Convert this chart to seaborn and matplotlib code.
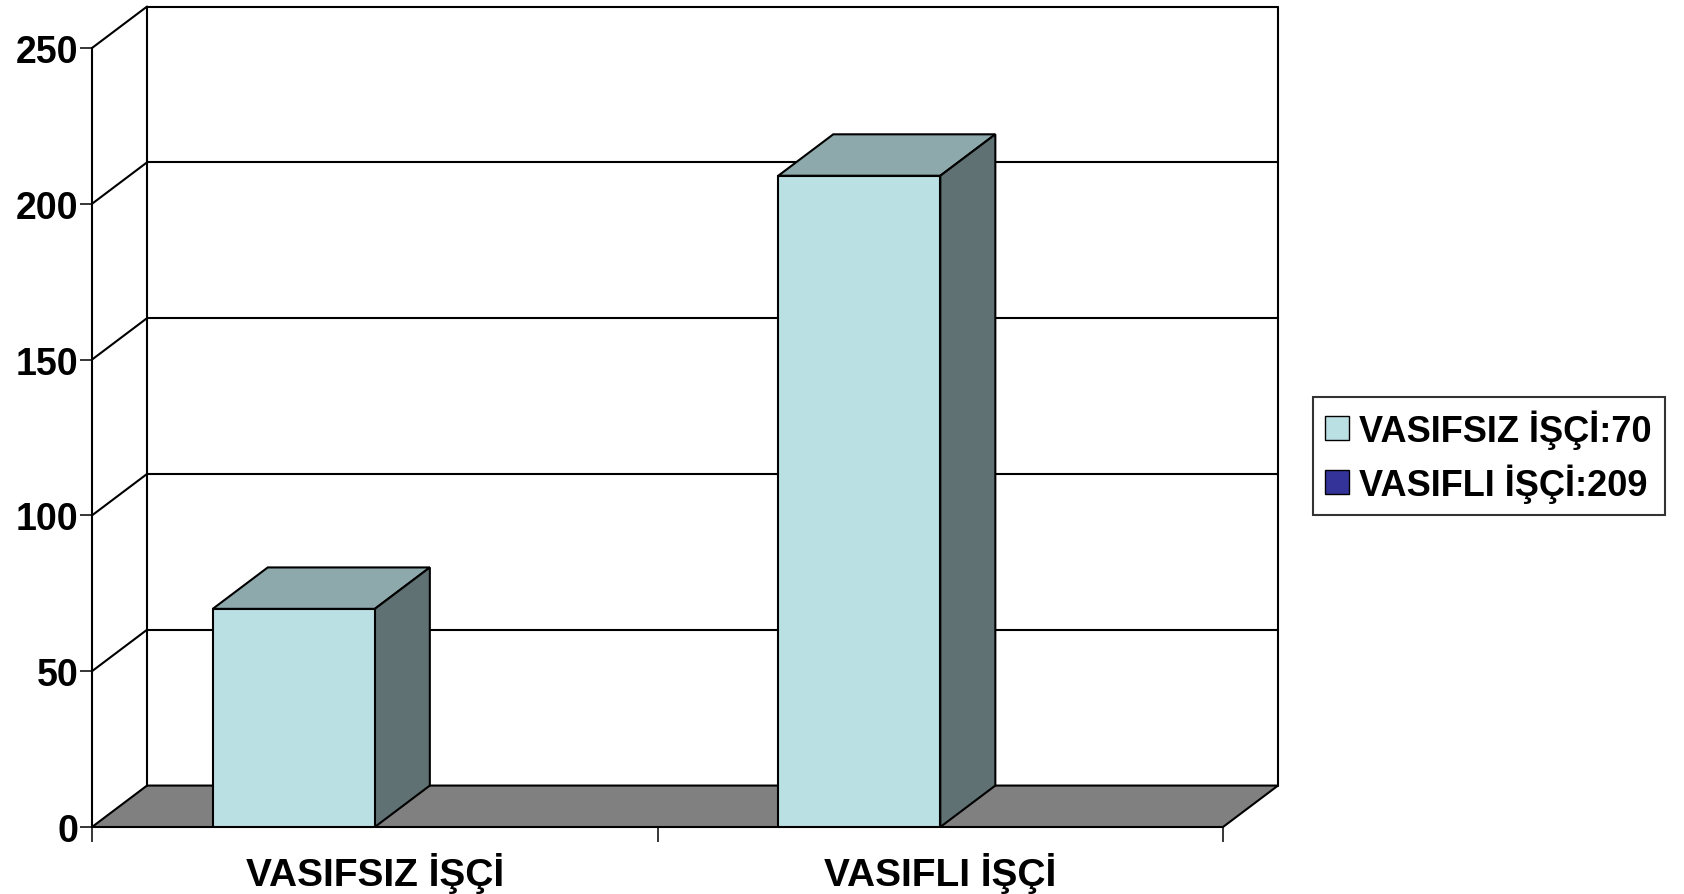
import matplotlib
matplotlib.use("Agg")
import matplotlib.pyplot as plt
from matplotlib.patches import Polygon, Patch
import seaborn as sns
import pandas as pd

categories = ["VASIFSIZ İŞÇİ", "VASIFLI İŞÇİ"]
values = [70, 209]
legend_labels = ["VASIFSIZ İŞÇİ:70", "VASIFLI İŞÇİ:209"]
legend_colors = ["#BBE0E3", "#333399"]
y_ticks = [0, 50, 100, 150, 200, 250]

FRONT = "#BBE0E3"
TOP = "#8DA9AB"
SIDE = "#5F7173"
FLOOR = "#808080"

sns.set_theme(style="white")
plt.rcParams["font.family"] = ["Liberation Sans", "DejaVu Sans"]
plt.rcParams["font.weight"] = "bold"
plt.rcParams["text.color"] = "black"
plt.rcParams["xtick.color"] = "black"
plt.rcParams["ytick.color"] = "black"

df = pd.DataFrame({"kategori": categories, "sayi": values})

fig = plt.figure(figsize=(16.84, 8.95), dpi=100)
W, H = 1684, 895
ax = fig.add_axes([92 / W, (H - 828) / H, 1131 / W, 779 / H])

bar_w = 0.2866
sns.barplot(data=df, x="kategori", y="sayi", color=FRONT, width=bar_w,
            edgecolor="black", linewidth=1.5, saturation=1, ax=ax, zorder=5)

x0 = -0.1435 - 0.2133
x1 = x0 + len(categories)
ymax = y_ticks[-1]
dx, dy = 0.0973, 13.3
lw = 1.5
ax.set_xlim(x0, x1)
ax.set_ylim(0, ymax)

# floor
ax.add_patch(Polygon([(x0, 0), (x1, 0), (x1 + dx, dy), (x0 + dx, dy)],
                     closed=True, facecolor=FLOOR, edgecolor="black",
                     linewidth=lw, clip_on=False, zorder=1))
# back wall + side wall grid
for t in y_ticks[1:]:
    ax.plot([x0 + dx, x1 + dx], [t + dy, t + dy], color="black", lw=lw,
            clip_on=False, zorder=2)
    ax.plot([x0, x0 + dx], [t, t + dy], color="black", lw=lw,
            clip_on=False, zorder=2)
ax.plot([x0 + dx, x0 + dx], [dy, ymax + dy], color="black", lw=lw, clip_on=False, zorder=2)
ax.plot([x1 + dx, x1 + dx], [dy, ymax + dy], color="black", lw=lw, clip_on=False, zorder=2)
ax.plot([x0, x0], [0, ymax], color="black", lw=lw, clip_on=False, zorder=6)

# 3D faces for bars
for p in ax.patches:
    if not hasattr(p, "get_width") or p.get_height() <= 0 or p.get_width() > 1:
        continue
    bx0 = p.get_x()
    bx1 = bx0 + p.get_width()
    h = p.get_height()
    ax.add_patch(Polygon([(bx0, h), (bx1, h), (bx1 + dx, h + dy), (bx0 + dx, h + dy)],
                         closed=True, facecolor=TOP, edgecolor="black",
                         linewidth=lw, clip_on=False, zorder=4))
    ax.add_patch(Polygon([(bx1, 0), (bx1 + dx, dy), (bx1 + dx, h + dy), (bx1, h)],
                         closed=True, facecolor=SIDE, edgecolor="black",
                         linewidth=lw, clip_on=False, zorder=4))

for s in ax.spines.values():
    s.set_visible(False)

ax.set_yticks(y_ticks)
ax.set_yticklabels([str(t) for t in y_ticks], fontsize=27, fontweight="bold", color="black")
ax.tick_params(axis="y", left=True, length=8.6, width=1.1, color="black", pad=1)

ax.set_xticks([x0 + 0.5 + i for i in range(len(categories))])
ax.set_xticklabels(categories, fontsize=28, fontweight="bold", color="black")
ax.set_xticks([x0 + i for i in range(len(categories) + 1)], minor=True)
ax.tick_params(axis="x", which="major", length=0, pad=18)
ax.tick_params(axis="x", which="minor", bottom=True, length=10.8, width=1.1, color="black")
ax.set_xlabel("")
ax.set_ylabel("")
ax.grid(False)

handles = [Patch(facecolor=c, edgecolor="black", linewidth=1) for c in legend_colors]
leg = fig.legend(handles, legend_labels, loc="center", bbox_to_anchor=(0.884, 0.4894),
                 prop={"family": "Liberation Sans", "weight": "bold", "size": 26},
                 handlelength=0.65, handleheight=0.65, handletextpad=0.3,
                 labelspacing=0.4, borderpad=0.35, borderaxespad=0,
                 frameon=True, fancybox=False)
leg.get_frame().set_edgecolor("black")
leg.get_frame().set_linewidth(1.5)
for t in leg.get_texts():
    t.set_color("black")

fig.savefig("out.png", dpi=100)
